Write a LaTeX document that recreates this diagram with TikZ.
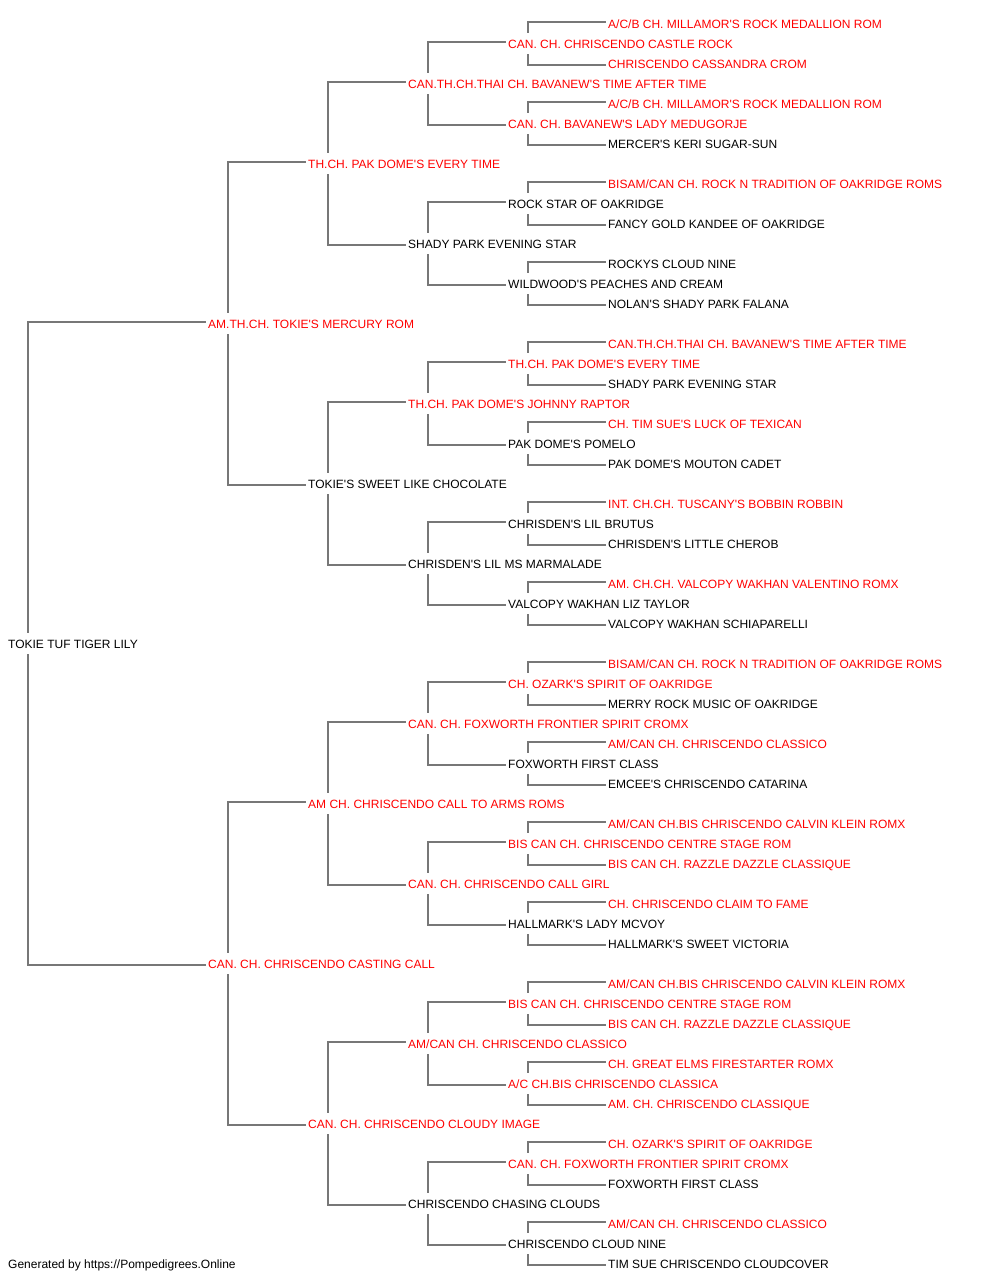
\documentclass[tikz,border=0pt]{standalone}
\usepackage{fontspec}
\setmainfont{Liberation Sans}
\definecolor{linegray}{RGB}{119,119,119}
\definecolor{tred}{RGB}{255,0,0}
\newcommand\ap{\textquotesingle}
\newcommand\pn[4]{\node[nm,text=#3] (n#1) at (#2,{23.8+20*#1}) {#4};}
\begin{document}
\begin{tikzpicture}[x=1pt,y=-1pt,
  nm/.style={anchor=west,inner sep=0pt,text height=8.6pt,text depth=0pt,font=\fontsize{12}{14}\selectfont},
  conn/.style={draw=linegray,line width=1.6pt}]
\useasboundingbox (0,0) rectangle (1000,1280);
% generation x positions: 8,208,308,408,508,608
\pn{0}{608}{tred}{A/C/B CH. MILLAMOR\ap S ROCK MEDALLION ROM}
\pn{1}{508}{tred}{CAN. CH. CHRISCENDO CASTLE ROCK}
\pn{2}{608}{tred}{CHRISCENDO CASSANDRA CROM}
\pn{3}{408}{tred}{CAN.TH.CH.THAI CH. BAVANEW\ap S TIME AFTER TIME}
\pn{4}{608}{tred}{A/C/B CH. MILLAMOR\ap S ROCK MEDALLION ROM}
\pn{5}{508}{tred}{CAN. CH. BAVANEW\ap S LADY MEDUGORJE}
\pn{6}{608}{black}{MERCER\ap S KERI SUGAR-SUN}
\pn{7}{308}{tred}{TH.CH. PAK DOME\ap S EVERY TIME}
\pn{8}{608}{tred}{BISAM/CAN CH. ROCK N TRADITION OF OAKRIDGE ROMS}
\pn{9}{508}{black}{ROCK STAR OF OAKRIDGE}
\pn{10}{608}{black}{FANCY GOLD KANDEE OF OAKRIDGE}
\pn{11}{408}{black}{SHADY PARK EVENING STAR}
\pn{12}{608}{black}{ROCKYS CLOUD NINE}
\pn{13}{508}{black}{WILDWOOD\ap S PEACHES AND CREAM}
\pn{14}{608}{black}{NOLAN\ap S SHADY PARK FALANA}
\pn{15}{208}{tred}{AM.TH.CH. TOKIE\ap S MERCURY ROM}
\pn{16}{608}{tred}{CAN.TH.CH.THAI CH. BAVANEW\ap S TIME AFTER TIME}
\pn{17}{508}{tred}{TH.CH. PAK DOME\ap S EVERY TIME}
\pn{18}{608}{black}{SHADY PARK EVENING STAR}
\pn{19}{408}{tred}{TH.CH. PAK DOME\ap S JOHNNY RAPTOR}
\pn{20}{608}{tred}{CH. TIM SUE\ap S LUCK OF TEXICAN}
\pn{21}{508}{black}{PAK DOME\ap S POMELO}
\pn{22}{608}{black}{PAK DOME\ap S MOUTON CADET}
\pn{23}{308}{black}{TOKIE\ap S SWEET LIKE CHOCOLATE}
\pn{24}{608}{tred}{INT. CH.CH. TUSCANY\ap S BOBBIN ROBBIN}
\pn{25}{508}{black}{CHRISDEN\ap S LIL BRUTUS}
\pn{26}{608}{black}{CHRISDEN\ap S LITTLE CHEROB}
\pn{27}{408}{black}{CHRISDEN\ap S LIL MS MARMALADE}
\pn{28}{608}{tred}{AM. CH.CH. VALCOPY WAKHAN VALENTINO ROMX}
\pn{29}{508}{black}{VALCOPY WAKHAN LIZ TAYLOR}
\pn{30}{608}{black}{VALCOPY WAKHAN SCHIAPARELLI}
\pn{31}{8}{black}{TOKIE TUF TIGER LILY}
\pn{32}{608}{tred}{BISAM/CAN CH. ROCK N TRADITION OF OAKRIDGE ROMS}
\pn{33}{508}{tred}{CH. OZARK\ap S SPIRIT OF OAKRIDGE}
\pn{34}{608}{black}{MERRY ROCK MUSIC OF OAKRIDGE}
\pn{35}{408}{tred}{CAN. CH. FOXWORTH FRONTIER SPIRIT CROMX}
\pn{36}{608}{tred}{AM/CAN CH. CHRISCENDO CLASSICO}
\pn{37}{508}{black}{FOXWORTH FIRST CLASS}
\pn{38}{608}{black}{EMCEE\ap S CHRISCENDO CATARINA}
\pn{39}{308}{tred}{AM CH. CHRISCENDO CALL TO ARMS ROMS}
\pn{40}{608}{tred}{AM/CAN CH.BIS CHRISCENDO CALVIN KLEIN ROMX}
\pn{41}{508}{tred}{BIS CAN CH. CHRISCENDO CENTRE STAGE ROM}
\pn{42}{608}{tred}{BIS CAN CH. RAZZLE DAZZLE CLASSIQUE}
\pn{43}{408}{tred}{CAN. CH. CHRISCENDO CALL GIRL}
\pn{44}{608}{tred}{CH. CHRISCENDO CLAIM TO FAME}
\pn{45}{508}{black}{HALLMARK\ap S LADY MCVOY}
\pn{46}{608}{black}{HALLMARK\ap S SWEET VICTORIA}
\pn{47}{208}{tred}{CAN. CH. CHRISCENDO CASTING CALL}
\pn{48}{608}{tred}{AM/CAN CH.BIS CHRISCENDO CALVIN KLEIN ROMX}
\pn{49}{508}{tred}{BIS CAN CH. CHRISCENDO CENTRE STAGE ROM}
\pn{50}{608}{tred}{BIS CAN CH. RAZZLE DAZZLE CLASSIQUE}
\pn{51}{408}{tred}{AM/CAN CH. CHRISCENDO CLASSICO}
\pn{52}{608}{tred}{CH. GREAT ELMS FIRESTARTER ROMX}
\pn{53}{508}{tred}{A/C CH.BIS CHRISCENDO CLASSICA}
\pn{54}{608}{tred}{AM. CH. CHRISCENDO CLASSIQUE}
\pn{55}{308}{tred}{CAN. CH. CHRISCENDO CLOUDY IMAGE}
\pn{56}{608}{tred}{CH. OZARK\ap S SPIRIT OF OAKRIDGE}
\pn{57}{508}{tred}{CAN. CH. FOXWORTH FRONTIER SPIRIT CROMX}
\pn{58}{608}{black}{FOXWORTH FIRST CLASS}
\pn{59}{408}{black}{CHRISCENDO CHASING CLOUDS}
\pn{60}{608}{tred}{AM/CAN CH. CHRISCENDO CLASSICO}
\pn{61}{508}{black}{CHRISCENDO CLOUD NINE}
\pn{62}{608}{black}{TIM SUE CHRISCENDO CLOUDCOVER}
% connectors
\foreach \p/\d in {31/16,15/8,47/8,7/4,23/4,39/4,55/4,3/2,11/2,19/2,27/2,35/2,43/2,51/2,59/2,
  1/1,5/1,9/1,13/1,17/1,21/1,25/1,29/1,33/1,37/1,41/1,45/1,49/1,53/1,57/1,61/1}{
  \pgfmathtruncatemacro\s{\p-\d}
  \pgfmathtruncatemacro\m{\p+\d}
  \draw[conn] ([shift={(20,-11)}]n\p.west) |- ([shift={(-2,-1.8)}]n\s.west);
  \draw[conn] ([shift={(20,10.5)}]n\p.west) |- ([shift={(-2,1.2)}]n\m.west);
}
\node[nm,text=black] (foot) at (8,1263.8) {Generated by https://Pompedigrees.Online};
\end{tikzpicture}
\end{document}
